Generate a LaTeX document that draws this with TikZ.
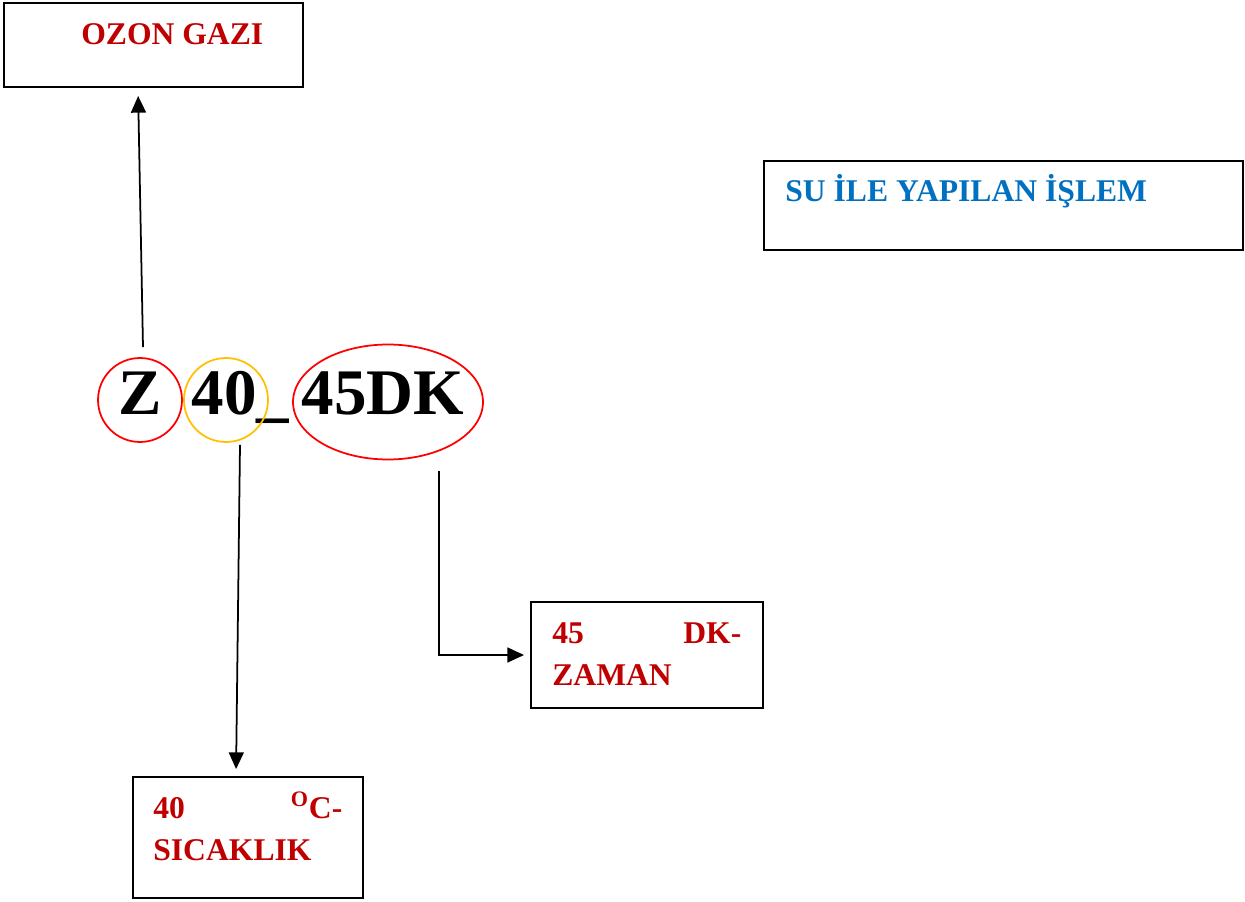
\documentclass[tikz,border=0pt]{standalone}
\usepackage{fontspec}
\setmainfont{Liberation Serif}
\usetikzlibrary{arrows.meta}
\definecolor{koyukirmizi}{HTML}{C00000}
\definecolor{mavi}{HTML}{0070C0}
\definecolor{kirmizi}{HTML}{FF0000}
\definecolor{turuncu}{HTML}{FFC000}

\begin{document}
\begin{tikzpicture}
[x=0.02cm,y=-0.02cm,box/.style={draw,line width=1.1pt,inner sep=0pt},lbl/.style={anchor=base west,inner sep=0pt,font=\bfseries\fontsize{18}{24}\selectfont,color=koyukirmizi},para/.style={lbl,text width=3.78cm,align=justify},big/.style={anchor=base,inner sep=0pt,font=\bfseries\fontsize{37}{44}\selectfont},ring/.style={line width=1pt},ok/.style={line width=1pt,-{Triangle[length=9.5pt,width=8.5pt]}},]
\useasboundingbox (0,0) rectangle (1245,902);
\node[box,minimum width=5.98cm,minimum height=1.68cm] (oz) at (153.5,45) {};
\node[box,minimum width=9.58cm,minimum height=1.78cm] (su) at (1003.5,205.5) {};
\node[box,minimum width=4.64cm,minimum height=2.12cm] (dk) at (647,655) {};
\node[box,minimum width=4.6cm,minimum height=2.42cm] (sc) at (248,837.5) {};
\node[lbl] (oz-t) at (81,45) {OZON GAZI};
\node[lbl,color=mavi] (su-t) at (785,202) {SU İLE YAPILAN İŞLEM};
\node[para] (dk-t) at (552,643) {45 \hfill DK-\\ZAMAN};
\node[para] (sc-t) at (153,818) {40 \hfill \textsuperscript{O}C-\\SICAKLIK};
\node[big] (z) at (140,415) {Z};
\node[big] (t) at (224,415) {40};
\node[big,anchor=base west] (u) at (256,415) {\_};
\node[big] (d) at (383,415) {45DK};
\draw[ring,kirmizi] (140,400) circle [radius=0.84cm];
\draw[ring,turuncu] (226,400) circle [radius=0.84cm];
\draw[ring,kirmizi] (388,402) ellipse [x radius=1.9cm,y radius=1.15cm];
\draw[ok,shorten >=0.16cm] ([xshift=0.06cm,yshift=0.5cm]z.north) -- ([xshift=-0.31cm]oz.south);
\draw[ok,shorten >=0.14cm] ([xshift=0.32cm,yshift=-0.58cm]t.south) -- ([xshift=-0.24cm]sc.north);
\draw[ok,shorten >=0.12cm] ([xshift=1.12cm,yshift=-1.1cm]d.south) |- (dk.west);
\end{tikzpicture}
\end{document}
